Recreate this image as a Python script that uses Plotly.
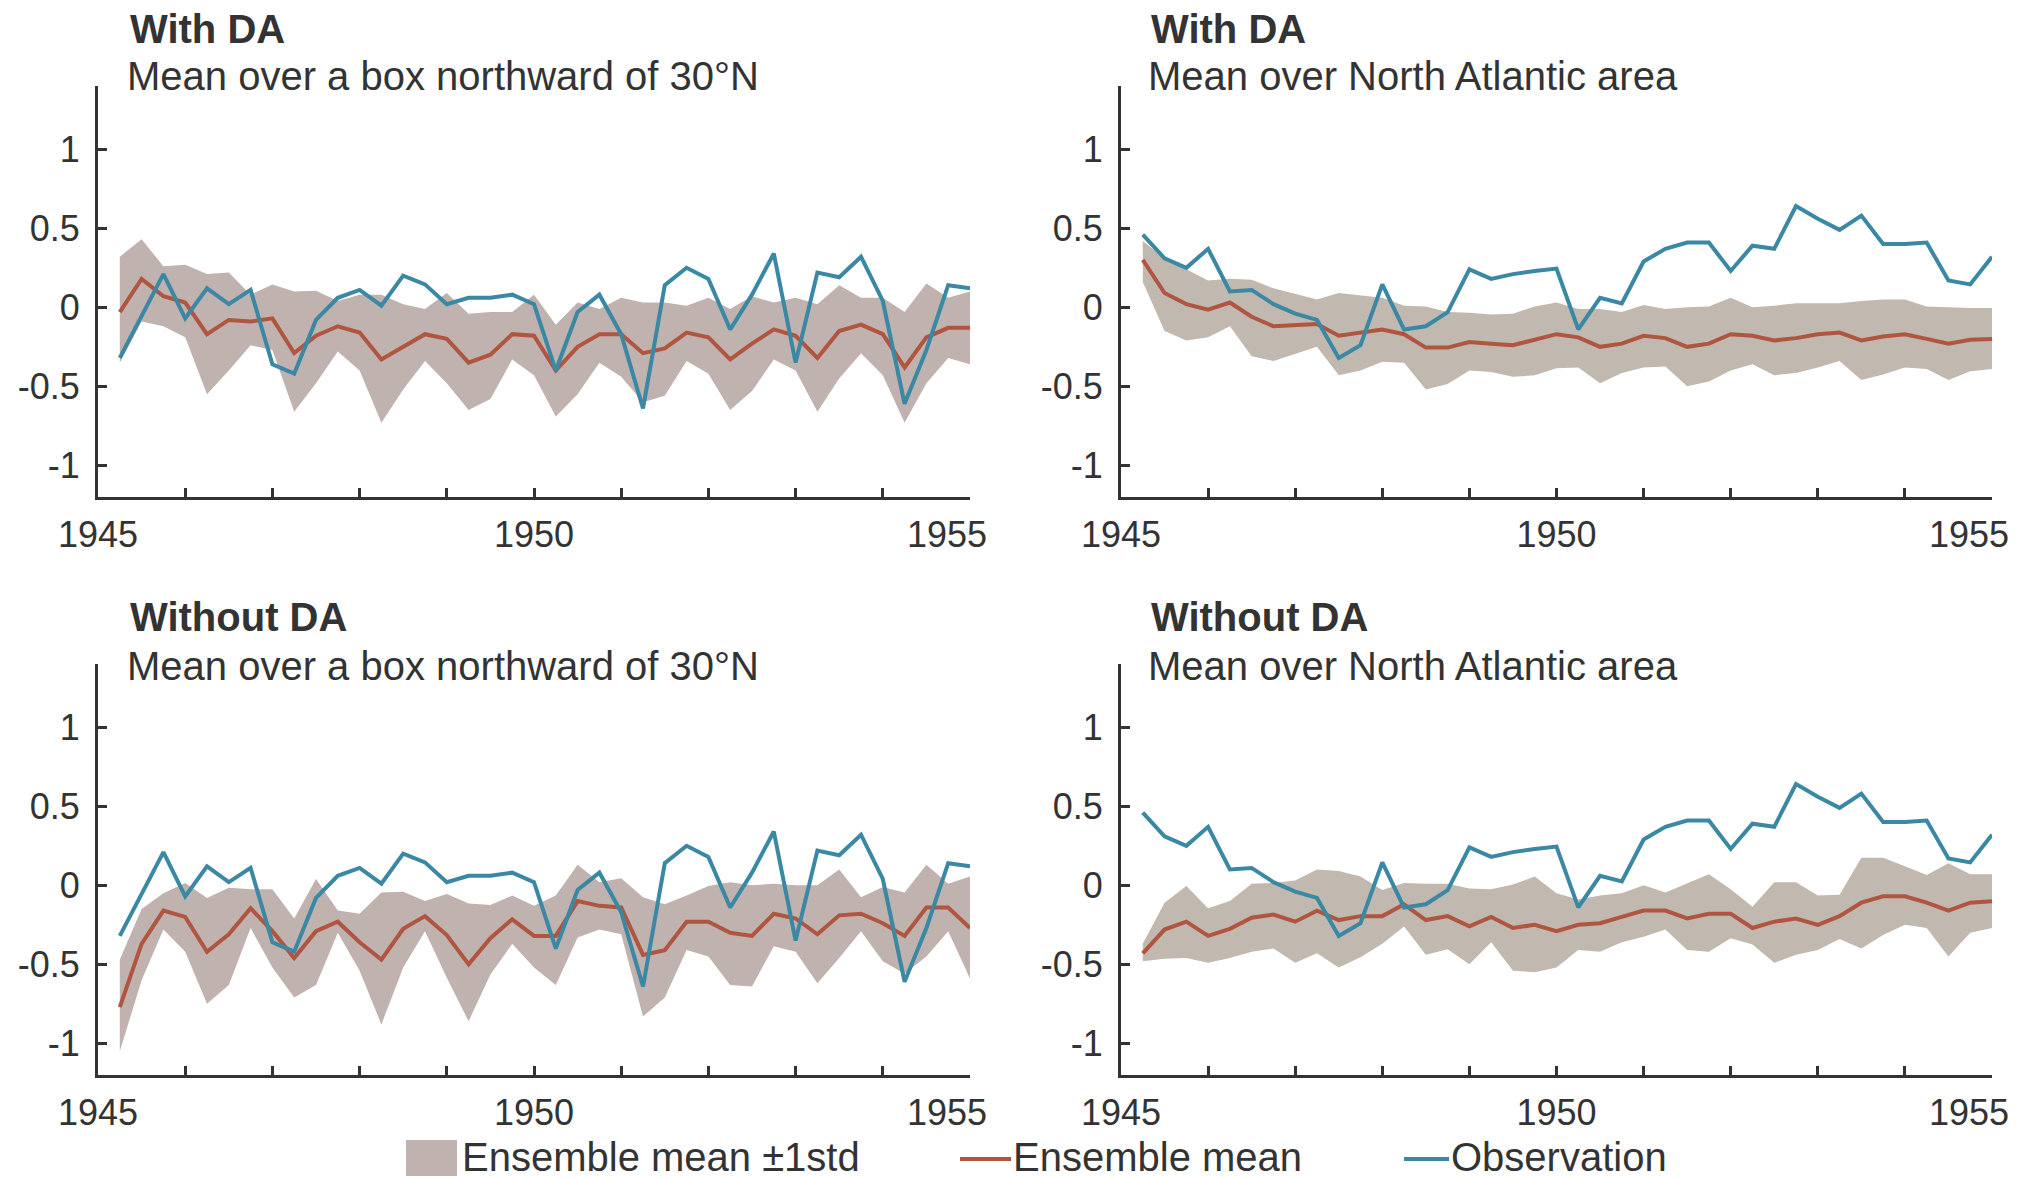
import plotly.graph_objects as go

# ---------------- data ----------------
time = [1945.25 + 0.25 * i for i in range(40)]  # quarterly time stamps

obs_box = [-0.32, -0.05, 0.21, -0.07, 0.12, 0.02, 0.11, -0.36, -0.42, -0.08,
           0.06, 0.11, 0.01, 0.20, 0.145, 0.02, 0.06, 0.06, 0.08, 0.02,
           -0.40, -0.03, 0.08, -0.17, -0.64, 0.14, 0.25, 0.18, -0.14, 0.08,
           0.34, -0.35, 0.22, 0.19, 0.32, 0.04, -0.61, -0.27, 0.14, 0.12]
obs_na = [0.46, 0.31, 0.25, 0.37, 0.10, 0.11, 0.02, -0.04, -0.08, -0.32,
          -0.24, 0.145, -0.14, -0.12, -0.03, 0.24, 0.18, 0.21, 0.23, 0.245,
          -0.14, 0.06, 0.025, 0.29, 0.37, 0.41, 0.41, 0.23, 0.39, 0.37,
          0.64, 0.56, 0.49, 0.58, 0.40, 0.40, 0.41, 0.17, 0.145, 0.32]

box_da_mean = [-0.03, 0.18, 0.07, 0.03, -0.17, -0.08, -0.09, -0.07, -0.29, -0.18,
               -0.12, -0.16, -0.33, -0.25, -0.17, -0.20, -0.35, -0.30, -0.17, -0.18,
               -0.40, -0.25, -0.17, -0.17, -0.29, -0.26, -0.16, -0.19, -0.33, -0.23,
               -0.14, -0.18, -0.32, -0.15, -0.11, -0.17, -0.38, -0.19, -0.13, -0.13]
box_da_upper = [0.32, 0.43, 0.26, 0.27, 0.21, 0.22, 0.08, 0.145, 0.10, 0.105,
                0.04, 0.08, 0.08, 0.02, -0.01, 0.09, -0.04, -0.03, -0.03, 0.08,
                -0.11, 0.03, -0.01, 0.06, 0.03, 0.03, 0.01, 0.06, -0.01, 0.07,
                0.03, 0.06, 0.02, 0.14, 0.06, 0.06, -0.03, 0.15, 0.06, 0.10]
box_da_lower = [-0.35, -0.09, -0.12, -0.19, -0.55, -0.40, -0.24, -0.27, -0.66, -0.48,
                -0.28, -0.40, -0.73, -0.52, -0.34, -0.48, -0.65, -0.58, -0.33, -0.43,
                -0.69, -0.55, -0.35, -0.44, -0.60, -0.56, -0.34, -0.42, -0.65, -0.53,
                -0.33, -0.40, -0.66, -0.45, -0.29, -0.43, -0.73, -0.48, -0.32, -0.36]

na_da_mean = [0.30, 0.09, 0.02, -0.015, 0.03, -0.06, -0.12, -0.11, -0.105, -0.18,
              -0.16, -0.14, -0.17, -0.255, -0.255, -0.22, -0.23, -0.24, -0.205, -0.17,
              -0.19, -0.25, -0.23, -0.18, -0.195, -0.25, -0.23, -0.17, -0.18, -0.21,
              -0.195, -0.17, -0.16, -0.21, -0.185, -0.17, -0.20, -0.23, -0.205, -0.20]
na_da_upper = [0.42, 0.31, 0.24, 0.17, 0.18, 0.175, 0.12, 0.085, 0.05, 0.09,
               0.075, 0.06, 0.01, 0.005, -0.03, -0.035, -0.045, -0.04, 0.005, 0.03,
               -0.01, -0.01, -0.03, 0.015, -0.01, 0.0, 0.005, 0.06, 0.0, 0.01,
               0.025, 0.025, 0.025, 0.04, 0.05, 0.05, 0.005, 0.0, -0.005, -0.005]
na_da_lower = [0.16, -0.15, -0.21, -0.19, -0.12, -0.31, -0.34, -0.295, -0.25, -0.43,
               -0.40, -0.345, -0.35, -0.52, -0.485, -0.40, -0.41, -0.44, -0.43, -0.385,
               -0.38, -0.48, -0.415, -0.38, -0.375, -0.50, -0.47, -0.40, -0.36, -0.43,
               -0.415, -0.38, -0.34, -0.46, -0.425, -0.38, -0.39, -0.46, -0.405, -0.39]

box_noda_mean = [-0.77, -0.37, -0.16, -0.20, -0.42, -0.31, -0.145, -0.29, -0.46, -0.29,
                 -0.23, -0.36, -0.47, -0.275, -0.195, -0.315, -0.50, -0.335, -0.215, -0.32,
                 -0.32, -0.10, -0.13, -0.14, -0.44, -0.41, -0.23, -0.23, -0.30, -0.32,
                 -0.18, -0.21, -0.31, -0.19, -0.18, -0.24, -0.32, -0.14, -0.14, -0.27]
box_noda_upper = [-0.47, -0.15, -0.05, 0.015, -0.08, -0.015, -0.025, -0.025, -0.21, 0.04,
                  -0.16, -0.18, -0.045, -0.04, -0.10, -0.055, -0.115, -0.125, -0.065, -0.13,
                  -0.065, 0.13, 0.02, 0.045, -0.075, -0.12, -0.065, -0.005, 0.02, 0.0,
                  0.01, 0.0, 0.0, 0.10, -0.075, -0.01, -0.045, 0.13, 0.01, 0.055]
box_noda_lower = [-1.05, -0.60, -0.28, -0.42, -0.75, -0.63, -0.27, -0.52, -0.71, -0.63,
                  -0.30, -0.54, -0.88, -0.52, -0.29, -0.585, -0.86, -0.565, -0.37, -0.52,
                  -0.63, -0.33, -0.28, -0.31, -0.83, -0.71, -0.41, -0.45, -0.63, -0.64,
                  -0.385, -0.42, -0.62, -0.46, -0.29, -0.48, -0.56, -0.45, -0.29, -0.59]

na_noda_mean = [-0.43, -0.28, -0.23, -0.32, -0.275, -0.205, -0.185, -0.23, -0.16, -0.22,
                -0.195, -0.195, -0.12, -0.22, -0.195, -0.26, -0.20, -0.27, -0.25, -0.29,
                -0.25, -0.24, -0.20, -0.16, -0.16, -0.21, -0.18, -0.18, -0.27, -0.23,
                -0.21, -0.25, -0.195, -0.11, -0.07, -0.07, -0.11, -0.16, -0.11, -0.10]
na_noda_upper = [-0.37, -0.11, -0.005, -0.145, -0.10, 0.01, 0.015, 0.03, 0.10, 0.09,
                 0.055, -0.03, 0.015, 0.01, 0.01, -0.02, -0.025, 0.005, 0.055, -0.05,
                 -0.09, -0.065, -0.05, 0.0, -0.045, 0.015, 0.07, -0.025, -0.135, 0.02,
                 0.02, -0.065, -0.06, 0.175, 0.175, 0.12, 0.065, 0.14, 0.07, 0.07]
na_noda_lower = [-0.48, -0.465, -0.46, -0.49, -0.46, -0.42, -0.40, -0.49, -0.43, -0.52,
                 -0.455, -0.37, -0.26, -0.44, -0.405, -0.50, -0.36, -0.54, -0.55, -0.52,
                 -0.41, -0.42, -0.36, -0.325, -0.28, -0.41, -0.42, -0.335, -0.375, -0.49,
                 -0.44, -0.41, -0.34, -0.40, -0.315, -0.25, -0.27, -0.45, -0.30, -0.27]

titles = ["With DA", "With DA", "Without DA", "Without DA"]
subtitles = ["Mean over a box northward of 30°N", "Mean over North Atlantic area",
             "Mean over a box northward of 30°N", "Mean over North Atlantic area"]
ytick_vals = [-1, -0.5, 0, 0.5, 1]
ytick_text = ["-1", "-0.5", "0", "0.5", "1"]
year_ticks = list(range(1945, 1956))
year_labels = ["1945", "", "", "", "", "1950", "", "", "", "", ""]
legend_labels = ["Ensemble mean ±1std", "Ensemble mean", "Observation"]

# ---------------- style ----------------
W, H = 2020, 1178
FONT = "Liberation Sans, Arial, Helvetica, sans-serif"
TXT = "#333333"
BLUE = "#3A88A3"
RED = "#B0553F"
BAND_L = "rgb(191,178,175)"
BAND_R = "rgb(193,184,176)"

xdom = [[98 / W, 970 / W], [1121 / W, 1992 / W]]
ydom = [[1 - 497 / H, 1 - 86 / H], [1 - 1075 / H, 1 - 664 / H]]

panels = [
    (obs_box, box_da_mean, box_da_upper, box_da_lower, 0, 0, BAND_L),
    (obs_na, na_da_mean, na_da_upper, na_da_lower, 1, 0, BAND_R),
    (obs_box, box_noda_mean, box_noda_upper, box_noda_lower, 0, 1, BAND_L),
    (obs_na, na_noda_mean, na_noda_upper, na_noda_lower, 1, 1, BAND_R),
]

fig = go.Figure()
layout = dict(width=W, height=H, autosize=False, template="none",
              margin=dict(l=0, r=0, t=0, b=0, pad=0),
              paper_bgcolor="white", plot_bgcolor="white",
              showlegend=False, font=dict(family=FONT, color=TXT, size=35))
annotations = []
shapes = []

for k, (obs, mean, up, lo, col, row, band) in enumerate(panels):
    n = k + 1
    xa = "x" if n == 1 else f"x{n}"
    ya = "y" if n == 1 else f"y{n}"
    fig.add_trace(go.Scatter(x=time, y=lo, mode="lines", line=dict(width=0, color=band),
                             xaxis=xa, yaxis=ya, hoverinfo="skip"))
    fig.add_trace(go.Scatter(x=time, y=up, mode="lines", line=dict(width=0, color=band),
                             fill="tonexty", fillcolor=band, xaxis=xa, yaxis=ya,
                             name=legend_labels[0]))
    fig.add_trace(go.Scatter(x=time, y=mean, mode="lines", line=dict(width=4, color=RED),
                             xaxis=xa, yaxis=ya, name=legend_labels[1]))
    fig.add_trace(go.Scatter(x=time, y=obs, mode="lines", line=dict(width=4, color=BLUE),
                             xaxis=xa, yaxis=ya, name=legend_labels[2]))

    xkey = "xaxis" if n == 1 else f"xaxis{n}"
    ykey = "yaxis" if n == 1 else f"yaxis{n}"
    layout[xkey] = dict(domain=xdom[col], anchor=ya, range=[1945, 1955],
                        automargin=False,
                        showline=True, linecolor=TXT, linewidth=3, showgrid=False,
                        zeroline=False, ticks="inside", ticklen=9, tickwidth=2.5,
                        tickcolor=TXT, tickvals=year_ticks, ticktext=year_labels,
                        tickfont=dict(size=36, color=TXT, family=FONT),
                        ticklabelstandoff=4)
    layout[ykey] = dict(domain=ydom[row], anchor=xa, range=[-1.2, 1.4],
                        automargin=False,
                        showline=True, linecolor=TXT, linewidth=3, showgrid=False,
                        zeroline=False, ticks="inside", ticklen=9, tickwidth=2.5,
                        tickcolor=TXT, tickvals=ytick_vals, ticktext=ytick_text,
                        tickfont=dict(size=36, color=TXT, family=FONT),
                        ticklabelstandoff=8)
    # last year label (drawn slightly left of the axis end, as in the original)
    annotations.append(dict(x=1955, y=0, xref=xa, yref=f"{ya} domain",
                            text="1955", showarrow=False, xanchor="center",
                            yanchor="top", xshift=-23, yshift=-15,
                            font=dict(size=36, color=TXT, family=FONT)))
    # titles
    tx = [128, 1149][col] / W
    ty_title = [29, 617][row]
    ty_sub = [76, 666][row]
    annotations.append(dict(x=tx, y=1 - ty_title / H, xref="paper", yref="paper",
                            text=f"<b>{titles[k]}</b>", showarrow=False,
                            xanchor="left", yanchor="middle",
                            font=dict(size=40, color=TXT, family=FONT)))
    annotations.append(dict(x=tx - 3 / W, y=1 - ty_sub / H, xref="paper", yref="paper",
                            text=subtitles[k], showarrow=False,
                            xanchor="left", yanchor="middle",
                            font=dict(size=40, color=TXT, family=FONT)))

# ---------------- manual legend ----------------
ly = 1 - 1159 / H
shapes.append(dict(type="rect", xref="paper", yref="paper",
                   x0=406 / W, x1=457 / W, y0=1 - 1176 / H, y1=1 - 1140 / H,
                   fillcolor=BAND_L, line=dict(width=0)))
shapes.append(dict(type="line", xref="paper", yref="paper",
                   x0=960 / W, x1=1011 / W, y0=ly, y1=ly,
                   line=dict(color=RED, width=4)))
shapes.append(dict(type="line", xref="paper", yref="paper",
                   x0=1404 / W, x1=1449 / W, y0=ly, y1=ly,
                   line=dict(color=BLUE, width=4)))
for xt, lab in zip([461, 1012, 1450], legend_labels):
    annotations.append(dict(x=xt / W, y=0, xref="paper", yref="paper", text=lab,
                            showarrow=False, xanchor="left", yanchor="bottom",
                            borderpad=0, yshift=-2,
                            font=dict(size=40, color=TXT, family=FONT)))

layout["annotations"] = annotations
layout["shapes"] = shapes
fig.update_layout(**layout)
fig.write_html("out.html",
               config={"displayModeBar": False},
               post_script="document.body.style.margin='0';document.body.style.overflow='hidden';")
